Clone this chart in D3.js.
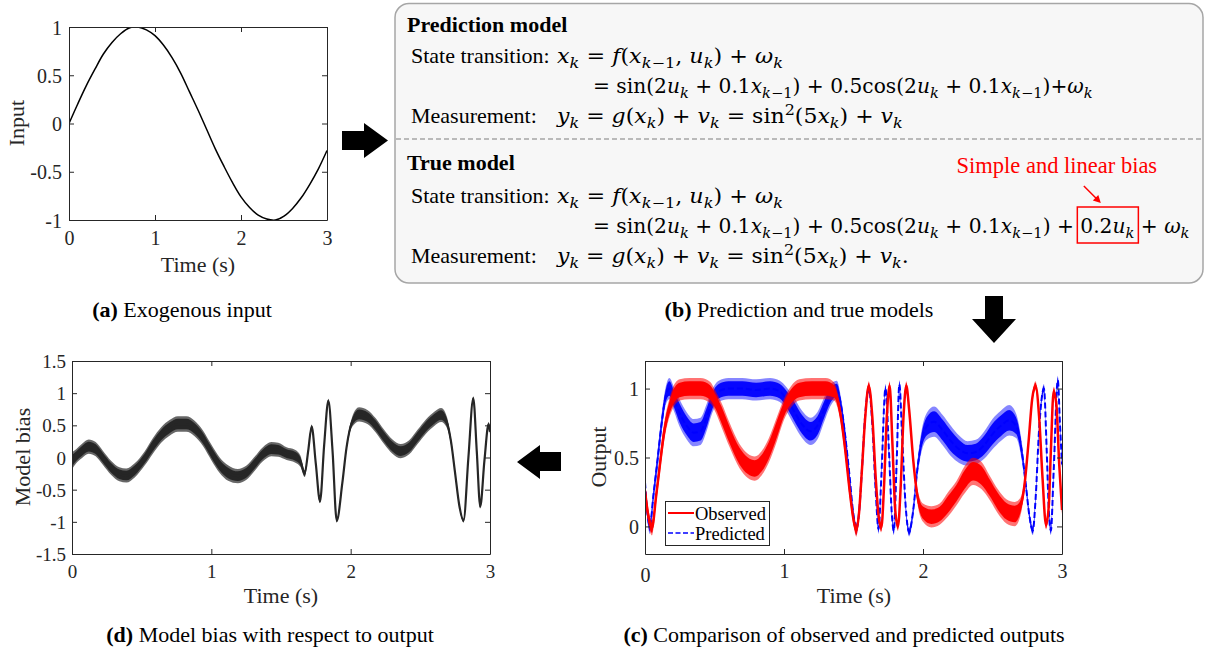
<!DOCTYPE html>
<html><head><meta charset="utf-8">
<script src="https://cdn.jsdelivr.net/npm/d3@7"></script>
<style>
body{margin:0;background:#fff;}
svg{display:block;font-family:"Liberation Serif","Times New Roman",serif;}
text{white-space:pre;}
</style></head><body>
<svg id="fig" width="1216" height="656"></svg>
<script>
// ---------------- data ----------------
const timeTicks = [0, 1, 2, 3];
const inputTicks = [-1, -0.5, 0, 0.5, 1];
const outputTicks = [0, 0.5, 1];
const biasTicks = [-1.5, -1, -0.5, 0, 0.5, 1, 1.5];

// (a) exogenous input
const inputT = [0,0.1,0.2,0.3,0.4,0.5,0.6,0.7,0.8,0.9,1.0,1.1,1.2,1.3,1.4,1.5,1.6,1.7,1.8,1.9,2.0,2.1,2.2,2.3,2.4,2.5,2.6,2.7,2.8,2.9,3.0];
const inputU = [0,0.20,0.39,0.56,0.72,0.84,0.93,0.99,1.00,0.97,0.91,0.81,0.68,0.52,0.33,0.14,-0.06,-0.26,-0.44,-0.61,-0.76,-0.87,-0.95,-0.99,-1.00,-0.96,-0.88,-0.77,-0.63,-0.47,-0.28];

// (c) observed output: time, band centre, band half-spread (noise)
const obsT = [0,0.02,0.05,0.08,0.11,0.14,0.17,0.20,0.25,0.32,0.40,0.47,0.51,0.55,0.61,0.68,0.74,0.79,0.84,0.89,0.95,1.00,1.05,1.11,1.20,1.30,1.36,1.40,1.44,1.47,1.50,1.52,1.54,1.56,1.585,1.61,1.635,1.66,1.68,1.70,1.72,1.74,1.76,1.78,1.80,1.82,1.84,1.86,1.88,1.90,1.93,1.96,2.00,2.06,2.12,2.18,2.24,2.30,2.36,2.42,2.48,2.54,2.60,2.66,2.70,2.73,2.76,2.785,2.81,2.835,2.86,2.885,2.905,2.92,2.94,2.96,2.98,3.00];
const obsMid = [0.26,0.10,-0.01,0.22,0.47,0.70,0.84,0.93,0.99,1.00,1.00,0.97,0.90,0.81,0.66,0.51,0.44,0.42,0.46,0.55,0.71,0.85,0.94,0.99,1.00,1.00,0.98,0.85,0.56,0.28,0.05,-0.03,0.10,0.40,0.80,1.02,0.80,0.35,0.08,-0.01,0.30,0.80,1.02,0.60,0.12,0.00,0.30,0.80,1.02,0.85,0.48,0.22,0.10,0.07,0.09,0.16,0.24,0.34,0.40,0.37,0.28,0.18,0.11,0.09,0.14,0.30,0.62,0.92,1.02,0.80,0.35,0.01,0.15,0.55,0.98,0.88,0.45,0.12];
const obsNoise = [0.05,0.05,0.05,0.05,0.06,0.06,0.06,0.07,0.07,0.07,0.07,0.07,0.07,0.08,0.08,0.08,0.08,0.08,0.08,0.08,0.08,0.07,0.07,0.07,0.07,0.07,0.06,0.05,0.05,0.05,0.04,0.04,0.03,0.03,0.03,0.03,0.03,0.03,0.03,0.03,0.03,0.03,0.03,0.03,0.03,0.03,0.03,0.03,0.03,0.03,0.04,0.05,0.06,0.07,0.07,0.08,0.08,0.09,0.09,0.09,0.08,0.08,0.08,0.08,0.06,0.04,0.03,0.03,0.03,0.03,0.03,0.03,0.03,0.03,0.03,0.03,0.03,0.03];

// (c) predicted output
const predT = [0,0.015,0.035,0.06,0.09,0.12,0.15,0.175,0.21,0.25,0.30,0.35,0.40,0.44,0.48,0.53,0.60,0.70,0.80,0.90,0.97,1.02,1.07,1.13,1.19,1.24,1.29,1.34,1.38,1.41,1.44,1.47,1.50,1.52,1.54,1.56,1.585,1.61,1.635,1.66,1.68,1.70,1.73,1.755,1.775,1.79,1.81,1.83,1.85,1.875,1.90,1.93,1.96,1.99,2.03,2.08,2.14,2.20,2.26,2.32,2.38,2.44,2.50,2.56,2.62,2.67,2.71,2.74,2.765,2.79,2.81,2.835,2.87,2.89,2.905,2.92,2.94,2.97,2.985,3.00];
const predMid = [0.32,0.12,0.00,0.22,0.48,0.75,0.95,1.00,0.92,0.82,0.73,0.68,0.69,0.78,0.90,0.98,1.00,1.00,0.99,1.00,0.98,0.92,0.84,0.74,0.69,0.73,0.85,0.96,0.99,0.88,0.66,0.38,0.08,-0.02,0.10,0.40,0.82,1.00,0.75,0.25,-0.02,0.35,1.00,0.55,0.10,-0.03,0.45,1.03,0.65,0.15,-0.04,0.12,0.42,0.62,0.73,0.76,0.70,0.62,0.56,0.53,0.54,0.59,0.67,0.73,0.77,0.73,0.55,0.30,0.08,-0.03,0.20,0.70,1.00,0.55,0.12,-0.03,0.40,1.06,0.75,0.45];
const predNoise = [0.05,0.05,0.05,0.05,0.06,0.06,0.06,0.07,0.08,0.09,0.09,0.09,0.09,0.09,0.08,0.07,0.07,0.07,0.07,0.07,0.07,0.08,0.09,0.09,0.09,0.09,0.08,0.07,0.06,0.05,0.05,0.04,0.04,0.04,0.03,0.03,0.03,0.03,0.03,0.03,0.03,0.03,0.03,0.03,0.03,0.03,0.03,0.03,0.03,0.03,0.03,0.04,0.05,0.07,0.09,0.10,0.10,0.10,0.09,0.08,0.08,0.09,0.10,0.10,0.10,0.08,0.06,0.04,0.03,0.03,0.03,0.03,0.03,0.03,0.03,0.03,0.03,0.03,0.03,0.03];

// (d) model bias
const biasT = [0,0.03,0.07,0.12,0.17,0.22,0.28,0.34,0.39,0.45,0.52,0.58,0.64,0.70,0.76,0.82,0.88,0.94,1.00,1.06,1.12,1.19,1.25,1.31,1.37,1.43,1.48,1.54,1.60,1.64,1.67,1.695,1.72,1.75,1.78,1.81,1.84,1.87,1.90,1.94,1.97,2.01,2.06,2.12,2.18,2.24,2.30,2.36,2.42,2.48,2.54,2.60,2.65,2.69,2.72,2.75,2.78,2.81,2.845,2.88,2.905,2.93,2.96,2.99,3.00];
const biasMid = [-0.05,0.02,0.10,0.17,0.13,0.00,-0.16,-0.26,-0.28,-0.20,-0.02,0.18,0.35,0.46,0.52,0.52,0.45,0.30,0.08,-0.12,-0.24,-0.29,-0.24,-0.10,0.05,0.13,0.12,0.06,0.02,-0.06,-0.25,0.10,0.48,-0.10,-0.68,0.20,0.88,0.10,-0.98,-0.40,0.15,0.55,0.67,0.63,0.50,0.32,0.17,0.10,0.16,0.32,0.48,0.60,0.66,0.55,0.25,-0.25,-0.75,-0.98,0.00,0.92,0.10,-0.76,-0.05,0.52,0.40];
const biasNoise = [0.12,0.10,0.10,0.10,0.10,0.10,0.10,0.10,0.10,0.10,0.10,0.11,0.11,0.11,0.11,0.11,0.11,0.11,0.11,0.11,0.11,0.10,0.10,0.10,0.10,0.10,0.10,0.09,0.09,0.08,0.05,0.04,0.03,0.03,0.03,0.03,0.03,0.03,0.03,0.03,0.04,0.07,0.10,0.10,0.10,0.10,0.10,0.10,0.10,0.10,0.10,0.10,0.10,0.08,0.05,0.04,0.03,0.03,0.03,0.03,0.03,0.03,0.03,0.03,0.03];

const legendLabels = ["Observed", "Predicted"];
const captionLetters = ["(a)", "(b)", "(c)", "(d)"];
const captionTexts = [" Exogenous input", " Prediction and true models", " Comparison of observed and predicted outputs", " Model bias with respect to output"];

// ---------------- drawing ----------------
const svg = d3.select('#fig');
const INK = '#262626';
const fmt = d => String(d);

function axesBox(g, x, y, xt, yt, o) {
  const [xl, xr] = x.range(), [yb, ytop] = y.range();
  const style = sel => {
    sel.attr('font-family', null).attr('font-size', null);
    sel.select('.domain').attr('stroke', INK).attr('stroke-width', 1);
    sel.selectAll('.tick line').attr('stroke', INK);
  };
  const b = g.append('g').attr('transform', `translate(0,${yb})`)
    .call(d3.axisBottom(x).tickValues(xt).tickSize(-5).tickSizeOuter(0).tickFormat(fmt)).call(style);
  b.selectAll('text').attr('y', o.xLab).attr('dy', null).attr('fill', INK).style('font-size', o.fs + 'px');
  if (o.zeroDrop) b.selectAll('text').filter(d => d === 0).attr('y', o.xLab + o.zeroDrop);
  g.append('g').attr('transform', `translate(0,${ytop})`)
    .call(d3.axisTop(x).tickValues(xt).tickSize(-5).tickSizeOuter(0).tickFormat('')).call(style);
  const l = g.append('g').attr('transform', `translate(${xl},0)`)
    .call(d3.axisLeft(y).tickValues(yt).tickSize(-5).tickSizeOuter(0).tickFormat(fmt)).call(style);
  l.selectAll('text').attr('x', -o.yLab).attr('dy', '0.35em').attr('fill', INK).style('font-size', o.fs + 'px');
  g.append('g').attr('transform', `translate(${xr},0)`)
    .call(d3.axisRight(y).tickValues(yt).tickSize(-5).tickSizeOuter(0).tickFormat('')).call(style);
}

function clipFor(id, x, y) {
  const [xl, xr] = x.range(), [yb, yt] = y.range();
  svg.append('clipPath').attr('id', id).append('rect')
    .attr('x', xl).attr('y', yt).attr('width', xr - xl).attr('height', yb - yt);
  return svg.append('g').attr('clip-path', `url(#${id})`);
}

// noisy trace: fringe (full spread), solid core, centre line
function noisyBand(g, x, y, T, M, N, color, lw, dash, op, fringe) {
  const pts = T.map((t, i) => ({t, m: M[i], n: N[i]}));
  const area = k => d3.area().x(d => x(d.t)).y0(d => y(d.m - k * d.n)).y1(d => y(d.m + k * d.n)).curve(d3.curveMonotoneX);
  g.append('path').datum(pts).attr('d', area(1.1)).attr('fill', color).attr('fill-opacity', op * fringe);
  g.append('path').datum(pts).attr('d', area(0.75)).attr('fill', color).attr('fill-opacity', op);
  g.append('path').datum(pts)
    .attr('d', d3.line().x(d => x(d.t)).y(d => y(d.m)).curve(d3.curveMonotoneX))
    .attr('fill', 'none').attr('stroke', color).attr('stroke-width', lw)
    .attr('stroke-dasharray', dash || null);
}

function axisTitle(txt, x, y, rot) {
  const t = svg.append('text').attr('text-anchor', 'middle').attr('fill', INK)
    .style('font-size', '22px').text(txt);
  if (rot) t.attr('transform', `translate(${x},${y}) rotate(-90)`);
  else t.attr('x', x).attr('y', y);
}

function caption(i, x, y) {
  const t = svg.append('text').attr('x', x).attr('y', y).attr('text-anchor', 'middle')
    .attr('fill', '#000').style('font-size', '22px');
  t.append('tspan').attr('font-weight', 'bold').text(captionLetters[i]);
  t.append('tspan').text(captionTexts[i]);
}

// ---- (a) ----
const xa = d3.scaleLinear([0, 3], [69, 327]);
const ya = d3.scaleLinear([-1, 1], [220, 27]);
const ga = clipFor('clipA', xa, ya);
ga.append('path').datum(inputT.map((t, i) => [t, inputU[i]]))
  .attr('d', d3.line().x(d => xa(d[0])).y(d => ya(d[1])).curve(d3.curveCatmullRom))
  .attr('fill', 'none').attr('stroke', '#000').attr('stroke-width', 1.5);
axesBox(svg.append('g'), xa, ya, timeTicks, inputTicks, {fs: 20, xLab: 25, yLab: 7});
axisTitle('Time (s)', 198, 272);
axisTitle('Input', 24, 123, true);
caption(0, 182, 317);

// ---- (d) ----
const xd = d3.scaleLinear([0, 3], [72, 490]);
const yd = d3.scaleLinear([-1.5, 1.5], [554, 361]);
const gd = clipFor('clipD', xd, yd);
noisyBand(gd, xd, yd, biasT, biasMid, biasNoise, '#262626', 2.2, null, 1, 0.7);
axesBox(svg.append('g'), xd, yd, timeTicks, biasTicks, {fs: 19, xLab: 24, yLab: 6});
axisTitle('Time (s)', 281, 603);
axisTitle('Model bias', 30, 457, true);
caption(3, 270, 642);

// ---- (c) ----
const xc = d3.scaleLinear([0, 3], [645, 1062]);
const yc = d3.scaleLinear([-0.2, 1.2], [554, 361]);
const gc = clipFor('clipC', xc, yc);
noisyBand(gc, xc, yc, predT, predMid, predNoise, '#0000ff', 2, '6,3', 0.95, 0.5);
noisyBand(gc, xc, yc, obsT, obsMid, obsNoise, '#ff0000', 2.5, null, 1, 0.55);
axesBox(svg.append('g'), xc, yc, timeTicks, outputTicks, {fs: 20, xLab: 24, yLab: 6, zeroDrop: 4});
axisTitle('Time (s)', 854, 603);
axisTitle('Output', 606, 457, true);
caption(2, 844, 642);
// legend
const lg = svg.append('g');
lg.append('rect').attr('x', 665.5).attr('y', 501.5).attr('width', 104).attr('height', 44)
  .attr('fill', '#fff').attr('stroke', INK).attr('stroke-width', 1);
lg.append('line').attr('x1', 668).attr('x2', 694).attr('y1', 513).attr('y2', 513)
  .attr('stroke', '#ff0000').attr('stroke-width', 2);
lg.append('line').attr('x1', 668).attr('x2', 694).attr('y1', 533).attr('y2', 533)
  .attr('stroke', '#0000ff').attr('stroke-width', 1.5).attr('stroke-dasharray', '5,2.5');
lg.selectAll('text.lab').data(legendLabels).join('text').attr('class', 'lab')
  .attr('x', 695).attr('y', (d, i) => 520 + i * 20).attr('fill', '#000')
  .style('font-size', '18.5px').text(d => d);

// ---- (b) model box ----
svg.append('rect').attr('x', 395).attr('y', 3.5).attr('width', 808).attr('height', 279.5).attr('rx', 14)
  .attr('fill', '#f7f7f7').attr('stroke', '#a6a6a6').attr('stroke-width', 1.5);
svg.append('line').attr('x1', 396).attr('x2', 1202).attr('y1', 139).attr('y2', 139)
  .attr('stroke', '#a6a6a6').attr('stroke-width', 1.3).attr('stroke-dasharray', '5,3');

function plainText(txt, x, y, bold, size, color) {
  svg.append('text').attr('x', x).attr('y', y).attr('fill', color || '#000')
    .attr('font-weight', bold ? 'bold' : null).style('font-size', (size || 22) + 'px').text(txt);
}
plainText('Prediction model', 407, 32, true, 22);
plainText('State transition:', 411, 63);
plainText('Measurement:', 411, 123);
plainText('True model', 407, 170, true, 22);
plainText('State transition:', 411, 203);
plainText('Measurement:', 411, 263);

const MATHFONT = '"DejaVu Serif", "Liberation Serif", serif';
function mathLine(x, y, segs, targetW) {
  const g = svg.append('g');
  const t = g.append('text').attr('x', x).attr('y', y).attr('fill', '#000')
    .attr('font-family', MATHFONT).style('font-size', '20px');
  let shift = 0, idx = 0, bs = -1, be = -1;
  segs.forEach(([txt, kind]) => {
    if (kind === 'bs') { bs = idx; return; }
    if (kind === 'be') { be = idx; return; }
    const target = (kind === 'sub' || kind === 'subr') ? 5 : (kind === 'sup' ? -8 : 0);
    const ts = t.append('tspan').text(txt).attr('dy', target - shift);
    shift = target;
    if (kind === 'i' || kind === 'sub') ts.attr('font-style', 'italic');
    if (kind === 'sub' || kind === 'subr' || kind === 'sup') ts.style('font-size', '14.5px');
    idx += txt.length;
  });
  const n = t.node();
  const w = n.getComputedTextLength();
  const sx = targetW / w;
  g.attr('transform', `translate(${x},0) scale(${sx},1) translate(${-x},0)`);
  if (bs >= 0) {
    const a = n.getStartPositionOfChar(bs).x, b = n.getEndPositionOfChar(be - 1).x;
    return {x0: x + (a - x) * sx, x1: x + (b - x) * sx};
  }
  return null;
}
const I = s => [s, 'i'], R = s => [s, 'r'], S = s => [s, 'sub'], SR = s => [s, 'subr'], P = s => [s, 'sup'];
const rowF = [I('x'), S('k'), R(' = '), I('f'), R('('), I('x'), S('k'), SR('−1'), R(', '), I('u'), S('k'), R(') + '), I('ω'), S('k')];
const rowPred = [R('= sin(2'), I('u'), S('k'), R(' + 0.1'), I('x'), S('k'), SR('−1'), R(') + 0.5cos(2'), I('u'), S('k'), R(' + 0.1'), I('x'), S('k'), SR('−1'), R(')+'), I('ω'), S('k')];
const rowMeas = [I('y'), S('k'), R(' = '), I('g'), R('('), I('x'), S('k'), R(') + '), I('v'), S('k'), R(' = sin'), P('2'), R('(5'), I('x'), S('k'), R(') + '), I('v'), S('k')];
const rowTrue = [R('= sin(2'), I('u'), S('k'), R(' + 0.1'), I('x'), S('k'), SR('−1'), R(') + 0.5cos(2'), I('u'), S('k'), R(' + 0.1'), I('x'), S('k'), SR('−1'), R(') + '), ['', 'bs'], R('0.2'), I('u'), S('k'), ['', 'be'], R(' + '), I('ω'), S('k')];
const rowMeas2 = rowMeas.concat([R('.')]);

mathLine(557, 63, rowF, 226);
mathLine(593, 93, rowPred, 500);
mathLine(557, 123, rowMeas, 346);
mathLine(557, 203, rowF, 226);
const bx = mathLine(593, 233, rowTrue, 597);
mathLine(557, 263, rowMeas2, 352);

// bias highlight
const boxL = bx.x0 - 3, boxR = bx.x1 + 4;
svg.append('rect').attr('x', boxL).attr('y', 207).attr('width', boxR - boxL).attr('height', 36)
  .attr('fill', 'none').attr('stroke', '#ff0000').attr('stroke-width', 1.5);
const cx = (boxL + boxR) / 2;
const tip = [cx - 7, 203], tail = [cx - 24, 186];
svg.append('line').attr('x1', tail[0]).attr('y1', tail[1]).attr('x2', tip[0] - 4).attr('y2', tip[1] - 4)
  .attr('stroke', '#ff0000').attr('stroke-width', 1.5);
svg.append('path').attr('d', `M${tip[0]},${tip[1]} L${tip[0] - 8},${tip[1] - 2.5} L${tip[0] - 2.5},${tip[1] - 8} Z`)
  .attr('fill', '#ff0000');
svg.append('text').attr('x', cx - 51).attr('y', 173).attr('text-anchor', 'middle')
  .attr('fill', '#ff0000').style('font-size', '22.5px').text('Simple and linear bias');
caption(1, 799, 317);

// ---- block arrows ----
const arrows = [
  [[342,131],[364,131],[364,123],[388,140.5],[364,158],[364,150],[342,150]],
  [[985,296],[1003,296],[1003,319],[1016,319],[994,343],[972,319],[985,319]],
  [[561,452],[540,452],[540,445],[517,462],[540,479],[540,471],[561,471]]
];
svg.selectAll('path.blk').data(arrows).join('path').attr('class', 'blk')
  .attr('d', d => 'M' + d.join('L') + 'Z').attr('fill', '#000');
</script>
</body></html>
